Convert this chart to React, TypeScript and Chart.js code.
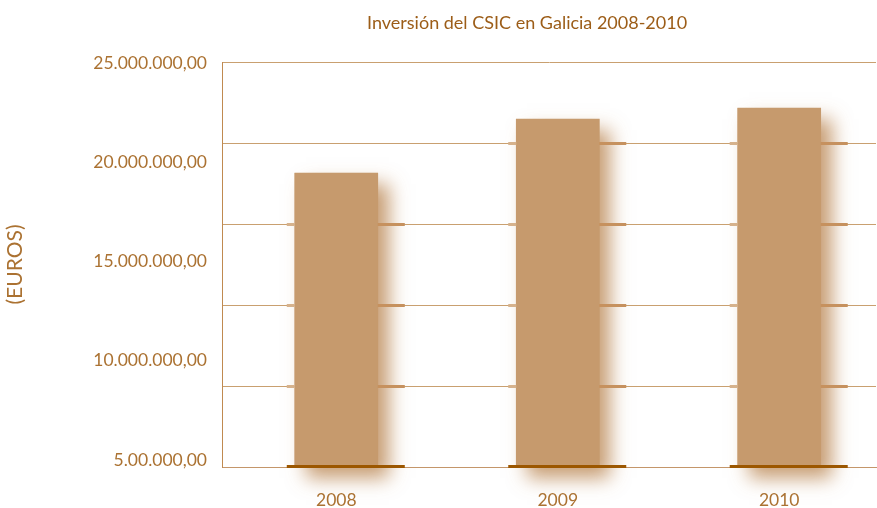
import React, { useEffect, useRef } from "react";
import { Chart, registerables } from "chart.js";

Chart.register(...registerables);

const chartTitle = "Inversión del CSIC en Galicia 2008-2010";
const axisTitle = "(EUROS)";
const categories = ["2008", "2009", "2010"];
const investment = [18150000, 21480000, 22160000];
const tickValues = [5000000, 10000000, 15000000, 20000000, 25000000];
const tickLabels = ["5.00.000,00", "10.000.000,00", "15.000.000,00", "20.000.000,00", "25.000.000,00"];

const FONT = "Lato";
const TEXT = "#ab7232";
const BAR = "#c69a6d";
const GRID = "#c9a070";

const shadowPlugin = {
  id: "barShadow",
  beforeDraw(chart: any) {
    const ctx = chart.ctx;
    const meta = chart.getDatasetMeta(0);
    ctx.save();
    ctx.shadowColor = "rgba(175,115,55,0.7)";
    ctx.shadowBlur = 18;
    ctx.shadowOffsetX = 11;
    ctx.shadowOffsetY = 11;
    ctx.fillStyle = BAR;
    meta.data.forEach((el: any) => {
      const { x, y, base, width } = el.getProps(["x", "y", "base", "width"], true);
      ctx.fillRect(x - width / 2, y, width, base - y);
    });
    ctx.restore();
  },
};

const segmentPlugin = {
  id: "gridSegments",
  afterDatasetsDraw(chart: any) {
    const ctx = chart.ctx;
    const meta = chart.getDatasetMeta(0);
    const yScale = chart.scales.y;
    ctx.save();
    meta.data.forEach((el: any) => {
      const { x, y, base, width } = el.getProps(["x", "y", "base", "width"], true);
      const l = x - width / 2;
      const r = x + width / 2;
      yScale.ticks.forEach((t: any) => {
        const py = yScale.getPixelForValue(t.value);
        if (t.value === 0) {
          ctx.fillStyle = "#9c5700";
          ctx.fillRect(l - 8, base - 1.5, width + 35, 3);
        } else if (py > y + 2 && py < base - 2) {
          ctx.fillStyle = "#d6b28c";
          ctx.fillRect(l - 8, Math.round(py) - 1, 8, 3);
          ctx.fillStyle = "#c6915e";
          ctx.fillRect(r, Math.round(py) - 1, 27, 3);
        }
      });
    });
    ctx.restore();
  },
};

const titlePlugin = {
  id: "customTitle",
  afterDraw(chart: any) {
    const ctx = chart.ctx;
    ctx.save();
    ctx.font = `18px ${FONT}`;
    ctx.fillStyle = "#9c5d18";
    ctx.textAlign = "center";
    ctx.textBaseline = "middle";
    ctx.fillText(chartTitle, chart.width * 0.601, 23);
    ctx.restore();
  },
};

export default function App() {
  const ref = useRef<HTMLCanvasElement | null>(null);

  useEffect(() => {
    if (!ref.current) return;
    const chart = new Chart(ref.current, {
      type: "bar",
      data: {
        datasets: [
          {
            data: investment.map((v, i) => ({ x: i, y: v })),
            backgroundColor: BAR,
            borderWidth: 0,
            barThickness: 83,
          },
        ],
      },
      plugins: [shadowPlugin, segmentPlugin, titlePlugin],
      options: {
        responsive: false,
        animation: false,
        layout: { padding: { top: 62, right: 1, left: 0, bottom: 0 } },
        plugins: {
          legend: { display: false },
          tooltip: { enabled: false },
          title: { display: false },
        },
        scales: {
          x: {
            type: "linear",
            offset: false,
            min: -0.516,
            max: 2.437,
            grid: { display: false, drawTicks: false, offset: false },
            border: { display: true, color: "#c4966a", width: 1 },
            afterBuildTicks: (s: any) => {
              s.ticks = categories.map((_, i) => ({ value: i }));
            },
            afterFit: (s: any) => {
              s.height = 41;
            },
            ticks: {
              padding: 23,
              color: TEXT,
              font: { family: FONT, size: 17.5 },
              callback: (v: any) => categories[v] ?? "",
            },
          },
          y: {
            type: "linear",
            position: "left",
            weight: 0,
            min: 0,
            max: 25000000,
            grid: { display: true, color: GRID, lineWidth: 1, drawTicks: false },
            border: { display: true, color: "#c08a50", width: 1 },
            ticks: { display: false, stepSize: 5000000 },
            afterFit: (s: any) => {
              s.width = 0;
            },
          },
          yLabels: {
            type: "linear",
            position: "left",
            weight: 1,
            min: 4647000,
            max: 25050000,
            grid: { display: false, drawTicks: false },
            border: { display: false },
            afterBuildTicks: (s: any) => {
              s.ticks = tickValues.map((v) => ({ value: v }));
            },
            afterFit: (s: any) => {
              s.width = 222;
            },
            title: {
              display: true,
              text: axisTitle,
              color: TEXT,
              font: { family: FONT, size: 21 },
              padding: { top: 3, bottom: 3 },
            },
            ticks: {
              padding: 15,
              color: TEXT,
              font: { family: FONT, size: 17.5 },
              callback: (_v: any, i: number) => tickLabels[i],
            },
          },
        },
      } as any,
    });
    return () => chart.destroy();
  }, []);

  return (
    <div style={{ position: "absolute", left: 0, top: 0, width: 877, height: 508 }}>
      <canvas ref={ref} width={877} height={508} style={{ display: "block" }} />
    </div>
  );
}
